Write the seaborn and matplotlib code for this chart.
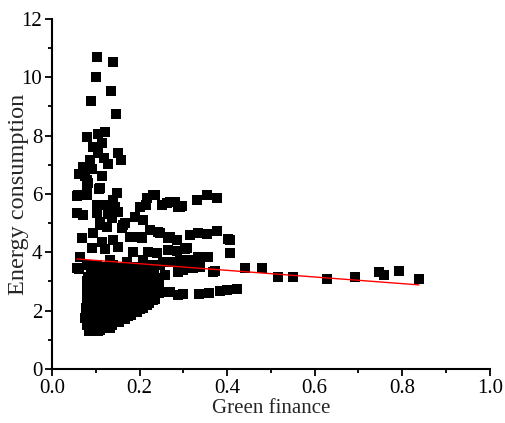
import numpy as np
import pandas as pd
import seaborn as sns
import matplotlib.pyplot as plt
from matplotlib.ticker import MultipleLocator

# green finance (x) and energy consumption (y)
green_finance = [
    # high outliers
    0.103, 0.139, 0.100, 0.135, 0.089, 0.146, 0.080, 0.105, 0.121, 0.094, 0.114,
    0.151, 0.157, 0.087, 0.071, 0.128, 0.062, 0.114, 0.080, 0.107, 0.080, 0.057,
    0.148, 0.104, 0.118, 0.092, 0.075,
    # middle band
    0.082, 0.110, 0.059, 0.080, 0.148, 0.139, 0.217, 0.235, 0.103, 0.126, 0.144,
    0.201, 0.215, 0.251, 0.269, 0.288, 0.057, 0.071, 0.103, 0.128, 0.151, 0.110,
    0.137, 0.189, 0.208, 0.162, 0.126, 0.094, 0.224, 0.242, 0.068, 0.114, 0.139,
    0.183, 0.205, 0.265, 0.285, 0.091, 0.121, 0.151, 0.185, 0.219, 0.240, 0.265,
    0.285, 0.308, 0.064, 0.080, 0.103, 0.132, 0.171, 0.208, 0.231, 0.253, 0.285,
    0.308, 0.160, 0.167, 0.110, 0.178, 0.201, 0.062, 0.057,
    # right part
    0.231, 0.263, 0.281, 0.292, 0.331, 0.354, 0.377, 0.296, 0.247, 0.269, 0.315,
    0.333, 0.354, 0.377, 0.402, 0.304, 0.406, 0.320, 0.333, 0.356, 0.292, 0.299,
    0.322, 0.338, 0.372, 0.441, 0.479, 0.516, 0.550, 0.628, 0.692, 0.747, 0.758,
    0.792, 0.838, 0.299, 0.336, 0.358, 0.384, 0.400, 0.422, 0.235, 0.251, 0.269,
    0.288, 0.258, 0.288, 0.368, 0.247, 0.276, 0.406,
    # dense cluster
    0.076, 0.078, 0.080, 0.079, 0.082,
    0.085, 0.088, 0.086, 0.089, 0.087, 0.090, 0.088,
    0.097, 0.099, 0.098, 0.101, 0.099, 0.102, 0.100,
    0.110, 0.112, 0.111, 0.113, 0.112, 0.114, 0.113,
    0.124, 0.126, 0.125, 0.127, 0.125, 0.128, 0.126,
    0.138, 0.140, 0.139, 0.141, 0.139, 0.142, 0.140,
    0.152, 0.154, 0.153, 0.155, 0.153, 0.156,
    0.166, 0.168, 0.167, 0.169, 0.167, 0.170,
    0.180, 0.182, 0.181, 0.183, 0.181, 0.184,
    0.194, 0.196, 0.195, 0.197, 0.195,
    0.208, 0.210, 0.209, 0.211, 0.209,
    0.222, 0.224, 0.223, 0.225,
    0.236, 0.238, 0.237,
    # cluster, in between
    0.081, 0.082, 0.080, 0.083, 0.081,
    0.093, 0.094, 0.092, 0.095, 0.093, 0.094, 0.092,
    0.105, 0.106, 0.104, 0.107, 0.105, 0.106, 0.105,
    0.118, 0.119, 0.117, 0.120, 0.118, 0.119,
    0.132, 0.133, 0.131, 0.134, 0.132, 0.133, 0.131,
    0.146, 0.147, 0.145, 0.148, 0.146, 0.147,
    0.160, 0.161, 0.159, 0.162, 0.160,
    0.174, 0.175, 0.173, 0.176, 0.174,
    0.188, 0.189, 0.187, 0.190, 0.188,
    0.202, 0.203, 0.201, 0.204,
    0.216, 0.217, 0.215, 0.218,
    0.230, 0.231, 0.229, 0.232,
    0.244, 0.245,
]
energy = [
    10.70, 10.52, 10.00, 9.53, 9.19, 8.74, 7.97, 8.05, 8.12, 7.60, 7.75,
    7.40, 7.16, 7.16, 6.93, 7.02, 6.70, 6.62, 6.48, 6.18, 6.24, 5.93,
    6.02, 7.40, 7.25, 6.85, 6.60,
    6.38, 6.20, 5.96, 5.96, 6.03, 5.80, 5.86, 5.96, 5.62, 5.62, 5.55,
    5.55, 5.62, 5.62, 5.73, 5.55, 5.35, 5.28, 5.35, 5.32, 5.38, 5.04,
    5.18, 5.21, 5.10, 4.94, 4.87, 4.66, 4.76, 4.70, 4.49, 4.35, 4.42,
    4.53, 4.49, 4.49, 4.42, 4.15, 4.10, 4.18, 4.00, 4.00, 3.98, 4.08,
    4.05, 4.15, 3.84, 3.56, 3.56, 3.74, 3.67, 3.74, 3.56, 3.67, 3.67,
    3.74, 4.83, 5.00, 4.94, 4.53, 4.53, 3.43, 3.46,
    5.96, 5.69, 5.73, 5.55, 5.78, 5.95, 5.86, 5.59, 4.66, 4.53, 4.58,
    4.65, 4.63, 4.72, 4.47, 4.11, 3.98, 3.74, 3.84, 3.84, 3.74, 3.39,
    3.46, 3.50, 3.36, 3.46, 3.46, 3.15, 3.15, 3.09, 3.15, 3.33, 3.22,
    3.36, 3.09, 2.57, 2.57, 2.61, 2.67, 2.71, 2.74, 2.81, 2.64, 2.64,
    2.54, 3.22, 3.33, 3.33, 3.56, 3.67, 4.42,
    1.75, 2.10, 2.45, 2.80, 3.15,
    1.30, 1.55, 1.95, 2.30, 2.65, 3.00, 3.35,
    1.45, 1.80, 2.15, 2.50, 2.85, 3.20, 3.50,
    1.35, 1.70, 2.05, 2.40, 2.75, 3.10, 3.45,
    1.45, 1.80, 2.15, 2.50, 2.85, 3.20, 3.50,
    1.50, 1.85, 2.20, 2.55, 2.90, 3.25, 3.55,
    1.62, 1.95, 2.30, 2.65, 3.00, 3.35,
    1.72, 2.05, 2.40, 2.75, 3.10, 3.45,
    1.85, 2.15, 2.50, 2.85, 3.20, 3.50,
    1.95, 2.30, 2.65, 3.00, 3.30,
    2.10, 2.45, 2.80, 3.15, 3.45,
    2.25, 2.60, 2.95, 3.30,
    2.40, 2.75, 3.10,
    1.50, 1.90, 2.30, 2.65, 3.00,
    1.40, 1.75, 2.10, 2.45, 2.80, 3.15, 3.45,
    1.30, 1.60, 1.95, 2.30, 2.65, 3.00, 3.35,
    1.55, 1.90, 2.25, 2.60, 2.95, 3.30,
    1.40, 1.65, 2.00, 2.35, 2.70, 3.05, 3.40,
    1.75, 2.10, 2.45, 2.80, 3.15, 3.45,
    1.70, 2.20, 2.55, 2.90, 3.25,
    1.80, 2.25, 2.60, 2.95, 3.30,
    2.00, 2.35, 2.70, 3.05, 3.40,
    2.05, 2.50, 2.85, 3.20,
    2.20, 2.55, 2.90, 3.25,
    2.35, 2.65, 3.00, 3.35,
    2.60, 2.90,
]

# fitted line end points
fit_x = [0.057, 0.838]
fit_y = [3.77, 2.88]

df = pd.DataFrame({'gf': green_finance, 'ec': energy})
fit = pd.DataFrame({'gf': fit_x, 'ec': fit_y})

sns.set_style('ticks')
plt.rcParams['font.family'] = ['Liberation Serif', 'DejaVu Serif']

fig = plt.figure(figsize=(5.05, 4.23), dpi=100)
ax = fig.add_axes([0.103, 0.128, 0.867, 0.827])

sns.scatterplot(data=df, x='gf', y='ec', marker='s', color='black',
                s=45, linewidth=0, ax=ax, zorder=2)
sns.lineplot(data=fit, x='gf', y='ec', color='red', linewidth=1, ax=ax, zorder=3)

ax.set_xlim(0, 1.0)
ax.set_ylim(0, 12)
ax.xaxis.set_major_locator(MultipleLocator(0.2))
ax.xaxis.set_minor_locator(MultipleLocator(0.1))
ax.yaxis.set_major_locator(MultipleLocator(2))
ax.yaxis.set_minor_locator(MultipleLocator(1))
ax.set_xticks([0, 0.2, 0.4, 0.6, 0.8, 1.0])
ax.set_xticklabels(['0.0', '0.2', '0.4', '0.6', '0.8', '1.0'])

sns.despine(ax=ax)
for s in ['left', 'bottom']:
    ax.spines[s].set_linewidth(1.5)
    ax.spines[s].set_color('black')
ax.tick_params(which='major', length=5, width=1.3, labelsize=15, pad=2, colors='black')
ax.tick_params(which='minor', length=3, width=1.3, colors='black')

ax.set_xlabel('Green finance', fontsize=15, labelpad=1)
ax.set_ylabel('Energy consumption', fontsize=17.5)
ax.yaxis.set_label_coords(-0.052, 0.5)

fig.savefig('out.png', dpi=100)
